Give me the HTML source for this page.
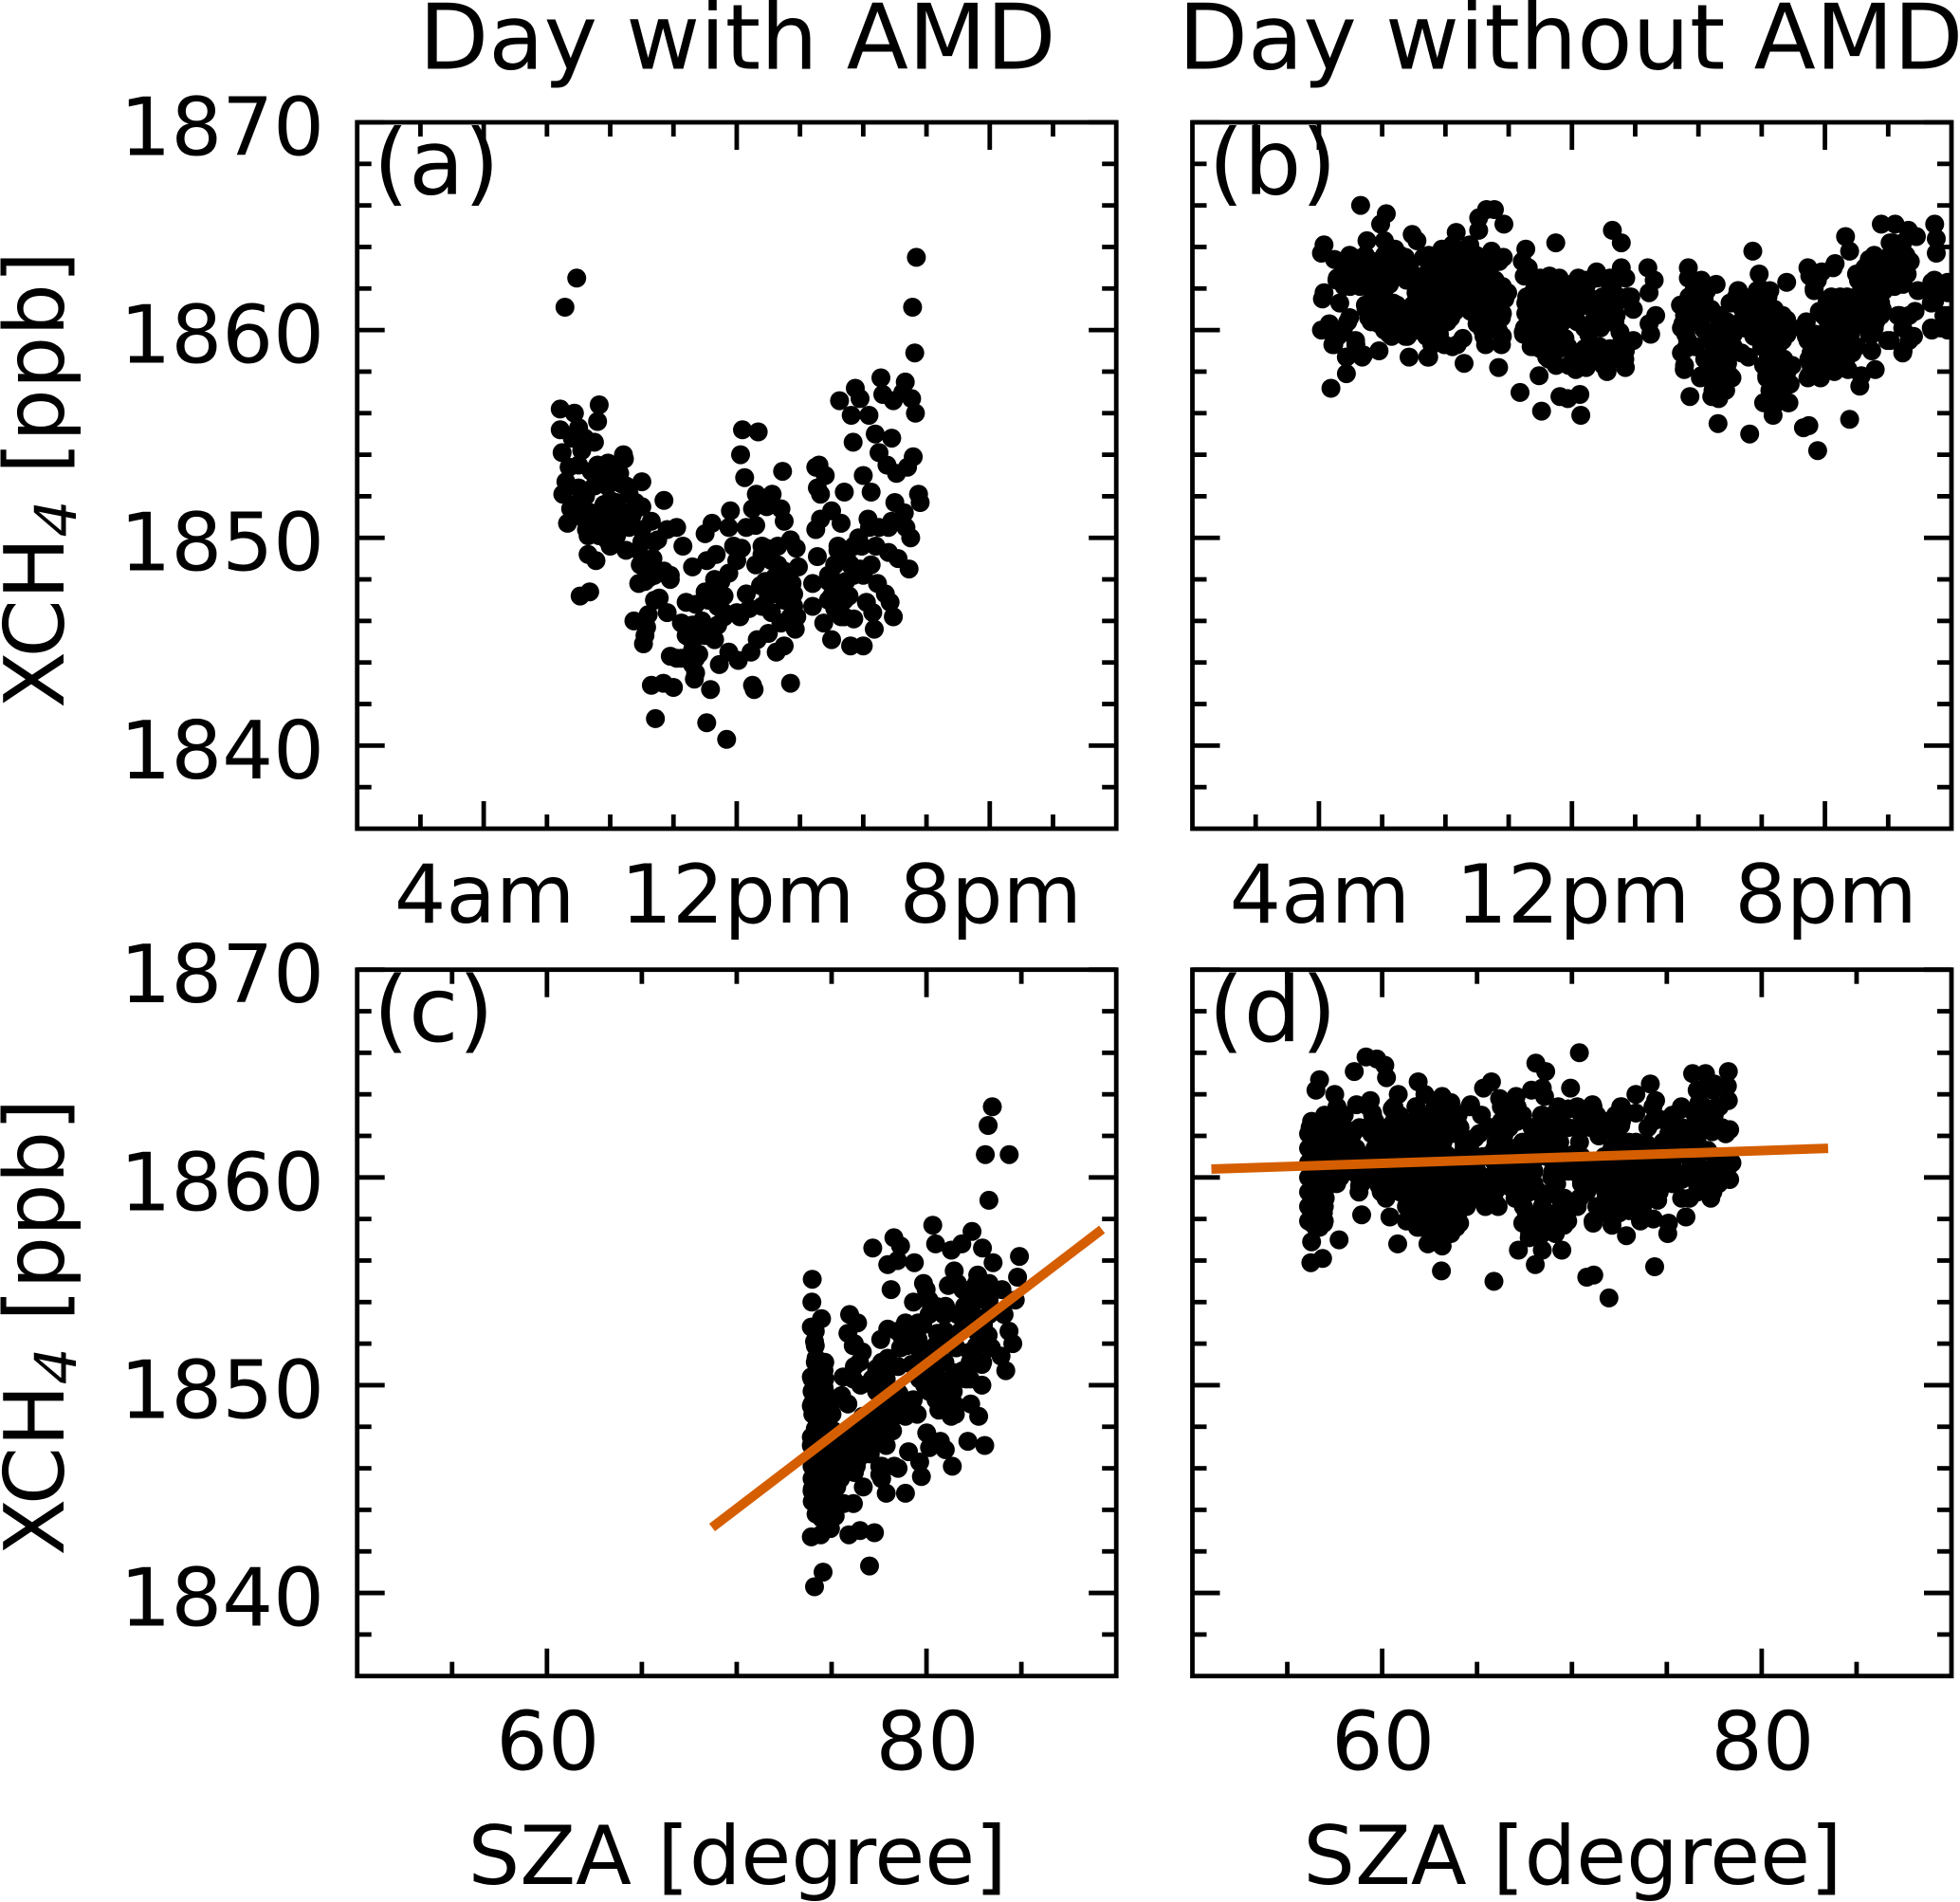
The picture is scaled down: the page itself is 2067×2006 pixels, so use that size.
<!DOCTYPE html>
<html lang="en">
<head>
<meta charset="utf-8">
<title>XCH4 versus time of day and SZA</title>
<style>
html,body{margin:0;padding:0;background:#fff;}
svg{display:block;font-family:"DejaVu Sans","Liberation Sans",sans-serif;}
</style>
</head>
<body>
<svg id="chart" xmlns="http://www.w3.org/2000/svg" width="2067" height="2006" viewBox="0 0 2067 2006"></svg>
<script>
const panelAHours = [6.42,6.87,7.65,7.60,6.42,7.00,6.80,7.50,6.48,7.10,6.70,7.93,8.42,8.45,7.40,7.75,8.30,9.00,6.60,7.00,6.50,7.22,7.80,8.00,8.35,8.60,6.75,9.00,6.65,7.25,7.55,8.20,9.30,8.70,9.00,7.90,7.65,8.50,8.00,7.30,7.55,7.05,7.35,
9.70,10.10,9.80,9.50,10.30,8.95,9.35,9.70,9.90,8.90,9.25,9.55,9.80,8.75,9.20,9.15,9.05,
12.18,12.68,12.12,12.25,13.45,12.62,13.12,11.80,12.50,12.95,13.40,13.50,11.22,11.00,11.75,12.30,12.60,13.70,13.88,13.95,10.60,11.05,11.35,11.90,12.15,12.00,12.95,12.80,13.10,11.75,11.30,13.50,13.75,13.20,11.00,11.40,11.60,12.30,12.75,13.00,13.60,13.80,10.40,10.70,11.60,12.00,12.40,13.10,13.40,13.85,13.90,10.25,10.90,10.50,10.80,11.30,12.65,13.00,13.50,13.25,11.75,12.45,12.05,11.45,9.90,10.25,10.60,10.80,10.70,10.66,9.30,9.68,10.00,11.17,12.50,12.55,13.70,9.43,11.05,11.68,
14.60,14.50,14.80,14.55,14.65,15.40,16.25,16.00,15.00,14.65,14.50,15.30,14.55,15.20,15.35,16.15,15.85,15.95,16.50,16.90,17.35,17.50,17.75,17.80,17.00,17.30,16.80,17.10,17.45,16.25,15.90,15.50,15.10,14.40,14.90,15.45,15.55,15.00,14.40,15.10,15.70,15.30,14.75,15.00,15.60,16.00,16.35,16.30,16.10,16.45,16.70,16.85,16.95,
16.56,17.33,15.75,15.25,15.90,15.62,16.18,16.62,16.95,17.25,17.53,17.65,15.68,16.38,16.90,16.50,16.75,17.05,17.40,17.58,
6.94,6.57,17.68,17.56,17.63];
const panelAXch4 = [1856.2,1856.0,1856.4,1855.6,1855.2,1855.3,1854.9,1854.6,1854.1,1854.2,1853.4,1853.6,1854.0,1853.8,1853.2,1853.0,1853.1,1852.7,1852.7,1852.4,1852.1,1852.0,1851.6,1851.8,1852.6,1852.1,1851.4,1851.5,1850.7,1850.4,1850.6,1850.8,1850.8,1851.1,1850.4,1849.9,1850.1,1849.4,1849.6,1849.2,1848.9,1847.2,1847.4,
1851.8,1850.5,1850.4,1849.9,1849.6,1848.7,1849.0,1848.4,1848.0,1847.8,1848.1,1847.1,1846.4,1846.0,1846.3,1845.7,1844.9,
1855.2,1855.1,1854.0,1852.9,1853.2,1852.1,1852.1,1851.3,1851.4,1851.5,1851.4,1850.8,1850.7,1850.2,1850.5,1850.5,1850.6,1849.9,1849.5,1848.6,1848.6,1848.9,1849.2,1849.6,1849.5,1848.9,1849.5,1849.2,1848.9,1848.3,1848.0,1848.4,1847.8,1848.1,1847.4,1847.5,1847.2,1847.3,1847.7,1847.2,1847.2,1846.7,1846.9,1846.8,1846.4,1846.4,1846.6,1846.4,1845.9,1845.6,1846.2,1845.9,1846.0,1845.2,1845.3,1845.1,1845.1,1845.4,1844.8,1844.5,1844.5,1844.5,1844.1,1843.9,1844.3,1844.2,1843.9,1844.4,1843.5,1843.2,1842.9,1843.0,1842.8,1842.7,1842.9,1842.7,1843.0,1841.3,1841.1,1840.3,
1853.5,1853.4,1853.0,1852.4,1852.1,1852.2,1852.2,1853.0,1851.3,1850.9,1850.4,1850.7,1849.1,1849.4,1849.1,1850.9,1850.0,1849.6,1850.5,1850.8,1850.5,1850.0,1852.1,1851.7,1851.7,1851.2,1849.3,1849.0,1848.5,1848.7,1848.5,1848.9,1848.7,1847.8,1847.9,1847.9,1847.2,1847.2,1846.7,1846.6,1846.1,1846.2,1845.9,1845.1,1844.8,1844.8,1845.6,1846.4,1846.9,1847.8,1847.3,1846.9,1846.2,
1857.7,1857.5,1857.2,1856.6,1856.7,1855.9,1855.9,1856.9,1856.6,1857.0,1856.7,1856.0,1854.6,1855.0,1854.8,1854.1,1853.5,1853.1,1853.4,1853.9,
1862.5,1861.1,1863.5,1861.1,1858.9];
const panelARowXch4 = [1854.8,1852.5,1851.7,1851.0,1850.1,1849.4,1848.7,1847.9,1847.3,1846.7,1845.8,1844.6,
1853.5,1851.2,1850.5,1849.8,1848.2,1847.0,1846.2,1845.3,1844.2,1849.6,1850.5];
const panelARowHours = [[6.8,7.2],[7.5,7.9,8.5],[7.0,8.2,8.8],[7.1,7.9],[7.3,8.2],[8.9],[12.6,13.3,15.1,15.6],[9.1,11.5,12.9,13.5,15.1],[11.4,13.3,13.8,15.3],[11.4,12.8],[11.4,10.6],[10.6],
[7.0,7.6,8.1],[7.4,8.4],[7.6,8.0,8.6],[9.0,9.4],[9.4,9.9,14.9,15.7,16.0],[9.4,11.1,13.5,14.9,15.4],[11.6,12.1,13.7,15.4],[9.1,10.4,11.0],[10.1,10.4,10.7],[12.8,13.3,15.2,15.7,16.4],[16.2,16.8]];

const panelBHours = [5.32,6.13,5.95,4.16,4.08,4.49,5.52,5.07,6.95,7.10,8.34,8.77,6.07,6.40,6.73,7.31,7.89,8.22,9.05,9.05,9.30,9.55,9.85,9.46,9.83,
4.58,4.91,5.24,5.90,6.23,6.57,7.06,7.56,8.06,8.39,8.88,9.22,9.63,
4.16,4.11,4.66,5.69,4.99,5.49,6.35,6.90,7.39,7.97,8.55,9.05,8.88,9.30,9.88,9.80,
4.08,4.33,4.91,4.58,5.16,4.44,5.41,4.87,5.90,4.87,4.38,
5.65,6.23,6.73,7.23,8.06,6.23,6.73,7.06,7.81,8.55,8.22,7.81,6.85,7.44,8.59,9.68,9.22,9.80,
10.54,10.43,10.62,10.49,11.29,11.49,13.28,13.56,13.56,14.40,14.60,14.44,10.96,11.54,12.03,12.45,12.78,13.28,13.86,12.53,10.54,10.54,11.37,11.87,12.86,13.94,14.65,14.44,14.49,10.46,10.71,11.12,11.78,11.20,12.03,11.37,11.70,12.53,13.52,13.94,13.36,13.69,12.86,13.69,13.11,12.36,12.12,12.45,10.96,10.36,11.62,11.87,12.25,11.04,12.28,
15.68,15.68,16.09,16.56,17.25,17.92,17.95,17.72,18.79,15.43,16.18,17.00,17.58,18.00,15.51,16.09,16.67,17.34,18.16,18.79,15.60,16.34,16.18,16.84,17.75,18.66,16.34,16.92,17.58,18.33,15.55,16.09,17.00,18.25,18.91,18.16,18.74,16.51,16.84,18.33,15.73,16.42,16.64,18.08,18.83,18.36,16.62,17.62,19.32,19.49,19.77,20.78,
19.52,19.90,19.66,20.32,20.65,20.78,21.40,21.23,19.41,19.82,20.48,21.15,21.73,19.41,20.24,21.15,21.81,19.82,20.57,21.48,19.49,20.32,20.82,21.48,19.49,19.82,20.73,21.15,21.59,21.10,
21.78,22.22,22.64,22.89,23.47,23.52,23.52,22.14,22.56,22.06,22.47,22.94,23.38,23.88,23.47,23.88,22.31,22.85,21.98,22.47,22.80,23.38,23.88,23.88];
const panelBXch4 = [1866.0,1865.6,1865.1,1864.1,1863.7,1863.4,1864.3,1863.5,1864.6,1864.3,1864.7,1864.1,1864.3,1863.9,1863.5,1863.5,1863.9,1864.1,1864.8,1865.4,1865.8,1865.8,1865.1,1863.8,1863.5,
1862.5,1862.2,1862.6,1862.7,1862.2,1862.9,1862.2,1862.4,1862.1,1862.7,1862.9,1862.2,1862.2,
1861.8,1861.5,1861.3,1861.8,1862.1,1861.0,1861.3,1861.0,1861.5,1861.3,1861.5,1861.5,1860.9,1860.7,1861.5,1860.8,
1860.0,1860.3,1860.4,1859.7,1859.5,1859.3,1858.8,1858.7,1859.0,1857.9,1857.2,
1860.4,1860.6,1860.4,1860.7,1860.4,1859.8,1859.7,1860.0,1859.8,1859.6,1859.2,1859.4,1858.7,1858.7,1858.4,1858.2,1859.7,1859.7,
1863.9,1863.3,1863.0,1862.6,1862.6,1864.2,1864.8,1864.2,1863.0,1863.0,1862.4,1861.8,1862.1,1861.9,1862.1,1862.4,1862.8,1862.1,1861.6,1861.6,1861.3,1860.8,1861.5,1861.2,1861.3,1861.0,1860.7,1860.3,1859.8,1859.9,1859.2,1859.8,1859.6,1858.7,1858.9,1860.7,1860.4,1859.8,1859.9,1859.5,1860.4,1859.0,1859.0,1858.2,1858.0,1858.7,1858.1,1858.2,1857.8,1857.0,1856.8,1856.7,1856.9,1856.1,1855.9,
1863.0,1862.5,1862.4,1862.2,1861.9,1862.7,1862.0,1863.8,1862.3,1861.2,1861.5,1861.3,1861.5,1861.0,1860.3,1860.7,1860.3,1860.4,1860.4,1860.5,1859.1,1859.7,1860.0,1859.2,1859.7,1859.7,1858.6,1858.4,1858.7,1859.0,1858.1,1857.8,1857.8,1858.3,1858.3,1857.8,1857.7,1857.2,1857.3,1857.2,1856.8,1856.8,1856.7,1856.5,1856.5,1855.9,1855.5,1855.0,1855.3,1855.4,1854.2,1855.7,
1862.6,1862.8,1862.0,1863.2,1864.5,1863.8,1863.4,1862.7,1860.4,1860.9,1861.6,1861.9,1862.4,1859.7,1860.0,1860.7,1861.0,1859.5,1859.4,1859.8,1858.6,1858.9,1859.0,1859.0,1857.8,1857.8,1858.1,1857.8,1858.1,1857.3,
1865.1,1865.1,1864.8,1864.5,1865.1,1864.4,1863.7,1864.2,1863.5,1862.9,1862.2,1861.9,1862.3,1862.3,1861.4,1861.8,1860.7,1860.9,1859.5,1859.0,1859.7,1860.0,1860.0,1860.7];
const panelBRowXch4 = [1863.6,1863.0,1862.4,1861.8,1861.2,1860.6,1860.0,1859.3,1858.7,
1862.2,1861.6,1861.0,1860.4,1859.8,1859.2,1858.6,
1861.9,1861.3,1860.7,1860.1,1859.5,1858.9,1858.3,1857.7,1857.1,1856.5,1864.2,1863.6,1863.0,1862.4,
1863.3,1862.7,1862.1,1861.5,1860.9,1860.3,1859.7,
1862.5,1861.9,1861.3,1860.7,1860.1,1859.1,1858.3,
1861.6,1861.0,1860.4,1859.8,1859.2,1858.6,1858.0,1857.4,1863.3,1862.7,1862.1];
const panelBRowHours = [[4.97,5.47,6.07,6.57,7.47,7.97,8.47,8.97,9.47],[4.77,5.27,5.87,6.37,6.87,7.67,8.17,8.67,9.17],[4.57,5.07,5.77,6.27,6.77,7.07,7.67,8.17,8.97,9.57],[5.77,7.07,7.47,8.07,8.57,9.07,9.57,9.97],[5.47,5.97,6.47,6.97,7.47,8.07,8.57,9.07,9.67],[4.97,5.57,6.27,6.77,7.27,7.77,8.17,9.07,9.77],[4.27,4.77,6.07,6.57,7.07,7.67,9.17,9.67],[4.47,5.17,7.57,7.97,8.37,9.27,9.77],[4.87,5.37,7.47],
[10.87,11.37,11.97,12.47,13.27],[10.57,11.07,11.57,12.07,12.97,13.47,13.77],[10.67,11.17,11.67,12.17,12.67,13.17],[10.67,10.97,12.17,12.67,13.17],[10.47,10.87,11.57],[10.77,11.27,11.87,12.87,13.47],[11.27,12.07,12.67,13.27,13.67],
[15.86,16.26,17.26,17.86,18.26,19.66,21.26,21.86,23.46,23.86],[15.66,16.16,17.16,17.66,18.16,20.06,20.56,21.16,21.76,23.36],[15.56,16.16,16.66,17.66,18.16,18.66,20.66,19.96,21.26,21.76,22.36,22.66,23.76],[15.46,16.66,17.46,18.06,18.56,19.26,20.36,20.86,21.56,22.46,23.36,23.66],[15.66,16.36,16.86,18.16,18.66,19.46,20.06,20.66,22.06,22.66],[15.46,16.46,16.86,17.36,18.26,19.56,20.16,20.86,22.46],[15.56,16.36,16.86,18.06,18.56,18.96,19.56,20.06,20.66],[16.06,16.66,17.06,18.16,18.66,19.46,19.86],[16.46,16.86,18.26,18.66],[18.06,18.46,18.86],[22.06,22.46],[21.56,22.06,22.56],[19.46,20.26,21.26,21.86,22.46],[19.76,21.06,21.66,22.16,23.46],
[4.7,5.2,5.7,6.2,6.7,7.7,8.2,8.7,9.2,9.7],[5.0,5.5,6.1,6.6,7.4,7.9,8.4,8.9,9.4],[4.8,5.3,6.0,7.3,7.9,8.4,8.7,9.3,9.8],[6.1,7.3,7.8,8.3,8.8,9.3,9.8],[5.7,6.2,6.7,7.2,7.7,8.3,8.8,9.3,9.6],[5.9,6.4,6.9,7.4,7.9,9.0,9.5],[4.6,6.3,6.8,7.4],
[11.0,11.6,12.2,12.8,13.2,13.7],[10.8,11.3,11.8,12.3,13.2],[10.9,11.4,11.9,12.4,13.0,13.4],[10.8,11.4,11.9,12.9,13.4],[10.5,10.9,11.2,12.4,12.9],[11.0,11.6,12.4,13.2],[11.5,11.9,12.4,13.0],
[15.7,16.1,17.2,17.7,18.2,20.2,20.7,21.3,21.7],[15.9,16.4,17.4,17.9,18.4,20.4,21.0,21.5],[15.8,16.9,17.4,17.9,18.4,20.1,20.6,21.1,21.6],[15.6,16.6,17.1,18.3,18.8,19.7,20.3,20.8,21.4],[15.9,16.5,17.1,18.0,18.5,19.8,20.4,21.0],[16.2,16.7,18.2,18.7,19.9,20.5],[16.4,16.9,18.3,18.8,19.7,20.3],[18.3,18.6,18.9],[21.9,22.3,22.7],[21.0,21.6,22.2,22.6],[21.4,21.9,22.2]];

const panelCSza = [83.47,83.25,83.10,84.36,83.29,80.33,82.40,78.28,77.17,78.63,80.48,81.86,81.31,82.95,84.90,77.96,78.47,79.36,83.51,81.46,82.70,84.80,73.98,79.84,78.13,81.15,81.91,82.58,83.98,79.98,73.96,79.31,80.23,83.09,84.68,75.95,74.47,76.37,80.90,82.25,84.09,78.89,73.93,75.86,77.96,79.56,80.57,83.25,84.35,77.59,74.10,76.20,78.72,79.56,78.63,84.55,76.62,80.23,81.57,83.42,74.18,77.96,83.93,
76.20,77.37,79.22,82.92,84.18,73.93,74.60,75.61,77.88,80.23,81.91,76.53,80.90,82.08,82.92,74.18,75.53,77.37,78.55,80.23,81.41,75.86,73.93,74.85,79.22,80.73,82.33,
74.01,75.02,79.51,80.65,81.52,82.75,78.89,77.71,76.53,74.18,78.21,80.01,77.29,73.93,75.19,76.53,80.73,82.18,83.07,77.88,80.16,80.99,73.93,79.05,77.04,75.53,74.01,75.19,76.37,77.54,79.64,78.50,81.36,76.20,75.02,79.73,74.18,77.54,73.98,75.27,76.67,77.88,78.89,73.98,74.85,76.15,74.18,75.19,74.94,73.93,74.43,75.91,76.50,77.26,74.55,77.00,74.10,
74.5,74.6,74.9,74.4,75.1,74.6,74.4,74.9,75.6,74.6,75.1,74.7,74.3,74.7,75.3,76.4,76.9,77.7,79.0,80.9,81.5,82.3,81.1,79.7,78.4,79.9,81.0,83.0,82.6,79.3];
const panelCXch4 = [1863.4,1862.5,1861.1,1861.1,1858.9,1857.7,1857.4,1857.1,1856.6,1856.7,1856.8,1856.8,1856.5,1856.6,1856.2,1855.8,1856.0,1855.9,1855.9,1855.5,1855.3,1855.2,1855.1,1854.9,1854.6,1854.8,1854.6,1854.6,1854.6,1854.6,1854.0,1854.0,1853.9,1854.1,1854.1,1853.4,1853.2,1853.0,1853.4,1853.4,1853.4,1853.0,1852.8,1852.5,1852.7,1853.0,1852.5,1852.4,1852.6,1852.2,1852.1,1852.0,1852.3,1852.2,1851.8,1852.0,1851.6,1851.6,1851.8,1851.8,1851.3,1851.3,1851.4,
1850.9,1850.8,1851.0,1851.0,1850.7,1850.4,1850.7,1850.4,1850.3,1850.7,1850.7,1850.0,1850.2,1850.3,1850.0,1849.7,1849.5,1849.7,1849.6,1849.7,1849.7,1849.1,1849.0,1849.2,1849.2,1849.3,1849.1,
1848.6,1848.6,1848.6,1848.8,1848.6,1848.5,1848.5,1848.5,1848.3,1847.9,1847.8,1847.7,1847.9,1847.5,1847.2,1847.4,1847.3,1847.3,1847.1,1847.1,1847.0,1846.9,1847.1,1846.8,1846.7,1846.7,1846.2,1846.2,1846.4,1846.1,1846.3,1846.0,1846.1,1845.8,1845.7,1845.6,1845.5,1845.7,1845.0,1845.1,1845.1,1844.8,1844.8,1844.4,1844.5,1844.3,1843.8,1843.7,1843.1,1842.7,1842.8,1842.8,1843.0,1842.9,1841.0,1841.3,1840.3,
1851.0,1849.9,1848.9,1848.3,1847.8,1847.4,1846.7,1846.5,1846.0,1845.8,1845.0,1844.9,1844.2,1843.6,1844.3,1847.5,1848.4,1849.4,1848.6,1851.1,1850.6,1851.6,1852.0,1851.5,1849.1,1850.0,1849.0,1852.9,1853.0,1852.6];
const panelCRowXch4 = [1854.9,1854.1,1853.4,1852.6,1851.9,1851.1,1850.3,1849.7,1849.1,1848.5,1847.9,1847.3,1846.7,1846.1,1845.5,1844.9,1844.3,1843.6,
1853.8,1852.9,1850.9,1849.3];
const panelCRowSza = [[82.63,83.3,81.63],[82.63,83.3,80.13],[80.13,80.97,81.63,82.46,83.3],[74.14,79.3,78.47,80.97,81.8,82.63],[74.14,76.14,78.97,80.47,82.63,83.3],[74.14,74.64,76.47,77.64,80.97,82.3,82.96],[73.97,74.64,76.14,77.14,79.63,80.63,81.63,82.3],[73.97,74.64,77.64,78.47,80.13,80.97],[73.97,74.8,77.64,78.47,80.8,81.46],[74.14,74.8,76.64,77.47,78.3,81.3],[74.14,74.8,75.97,76.8,77.64],[74.14,74.8,75.8,76.64,77.47],[74.14,74.8,75.47,76.3,76.97],[73.97,74.8,75.64,76.3,77.64,78.3],[73.97,74.8,75.47,77.64],[73.97,74.64],[74.14,74.8,75.64],[74.47],
[80.5,81.0,82.0],[79.8],[78.0,78.5],[79.3,80.5]];

const panelDSza = [59.15,59.72,60.14,60.23,58.53,70.39,68.10,68.62,69.93,65.76,65.34,61.90,56.70,56.51,57.50,60.85,74.13,73.37,74.41,76.36,77.04,78.24,78.19,76.77,78.24,77.50,
68.44,67.87,67.06,66.19,63.16,62.25,63.62,64.66,59.38,58.65,60.53,61.79,72.57,71.08,69.82,70.39,68.56,75.78,77.39,76.70,
56.97,56.28,57.43,59.49,58.81,59.72,60.87,62.25,63.39,65.23,66.61,68.44,69.36,70.62,71.88,73.37,74.63,75.32,76.36,78.31,77.39,72.57,
56.28,56.97,58.35,60.18,62.02,63.16,64.08,64.89,65.69,68.21,71.42,73.37,75.32,73.95,69.36,66.38,
56.28,57.43,58.35,64.31,67.52,70.05,72.11,74.41,78.31,77.16,76.01,61.56,63.39,65.69,68.67,70.96,
56.28,58.81,60.64,62.48,64.77,66.61,69.36,72.57,73.95,75.55,77.16,78.31,56.51,58.81,59.84,61.33,63.39,65.46,66.61,70.28,74.63,71.65,76.70,75.78,77.73,
56.51,60.30,62.25,63.85,66.03,65.46,67.29,68.90,70.85,72.57,73.72,74.52,75.78,77.32,70.28,72.23,67.75,
56.28,56.92,58.92,60.41,61.44,62.94,64.31,68.21,69.59,71.31,73.03,74.29,76.01,75.09,73.72,
67.41,64.08,61.86,69.59,71.12,72.11,69.13,63.62,62.82,67.75,72.87,75.05,
56.28,57.73,60.82,62.41,63.16,68.44,69.47,67.18,56.86,56.24,68.07,63.12,74.36,71.15,70.78,65.89,71.95,
56.3,56.5,56.3,56.7,57.0,57.2,56.5,56.3,56.7,56.3,56.9,57.0];
const panelDXch4 = [1865.8,1865.7,1865.4,1864.8,1865.1,1866.0,1865.5,1865.1,1864.3,1864.6,1864.3,1864.6,1864.7,1864.2,1864.0,1864.0,1864.5,1864.0,1863.7,1865.0,1865.0,1865.1,1864.4,1864.2,1863.7,1864.5,
1864.3,1864.2,1863.9,1863.8,1863.9,1864.0,1863.6,1863.5,1863.7,1863.5,1863.3,1863.4,1863.4,1863.5,1863.3,1863.3,1863.9,1863.3,1863.3,1863.6,
1863.0,1862.7,1862.2,1863.1,1862.4,1862.2,1862.7,1862.7,1863.0,1863.0,1863.3,1863.0,1862.7,1862.7,1862.7,1863.1,1862.8,1862.7,1862.3,1862.3,1862.2,1862.5,
1861.9,1861.6,1861.4,1861.7,1862.0,1861.7,1862.2,1861.9,1862.4,1862.2,1862.0,1861.7,1861.9,1861.6,1861.7,1861.7,
1861.0,1861.0,1860.7,1861.4,1861.2,1861.1,1861.3,1860.8,1860.6,1861.3,1861.1,1861.1,1861.1,1861.1,1861.0,1860.7,
1860.2,1860.4,1860.4,1860.4,1860.4,1860.5,1860.5,1860.4,1860.5,1860.2,1860.4,1859.9,1859.6,1859.6,1859.6,1859.6,1859.8,1859.8,1859.6,1860.2,1859.5,1859.9,1859.5,1859.9,1859.7,
1858.9,1859.2,1859.2,1859.0,1858.7,1858.9,1858.9,1859.2,1859.5,1859.3,1859.2,1858.9,1859.0,1859.0,1858.8,1858.7,1859.3,
1858.1,1857.8,1858.2,1858.1,1858.4,1858.4,1858.6,1858.1,1858.3,1858.6,1858.4,1858.0,1858.1,1857.8,1858.6,
1857.8,1857.8,1857.6,1857.7,1857.8,1857.7,1857.3,1857.3,1857.3,1857.1,1857.2,1857.3,
1856.9,1857.0,1856.8,1856.8,1856.7,1856.5,1856.5,1856.5,1856.1,1855.9,1855.8,1855.5,1855.7,1855.3,1855.2,1855.0,1854.2,
1862.3,1861.4,1859.2,1858.5,1859.9,1860.6,1860.6,1858.6,1857.6,1857.8,1862.0,1859.0];
const panelDRowXch4 = [1863.4,1862.7,1862.1,1861.4,1860.7,1860.0,1859.3,1858.6,1857.9,1857.3,
1863.4,1862.7,1862.1,1861.4,1860.7,1860.0,1859.3,1858.6,1857.9,1864.2,
1863.0,1862.4,1861.7,1861.0,1860.3,1859.7,1859.0,1858.3,1857.6];
const panelDRowSza = [[57.62,59.28,60.62,61.78,62.78,63.61,64.61,66.28,67.11],[56.29,57.12,57.78,59.62,60.62,61.61,62.45,63.28,63.95,66.28,67.11],[56.12,56.95,57.78,58.45,59.45,60.45,61.28,62.11,62.95,63.61,65.11,66.44],[56.12,56.95,57.62,58.62,59.62,60.62,61.45,62.28,63.11,64.61,65.94,66.94],[56.12,56.95,57.78,58.62,59.62,60.62,61.45,62.28,63.11,63.95,64.94,65.94,66.94,67.77],[56.12,56.95,57.78,58.78,59.78,60.78,61.95,63.45,64.61,65.61,66.61,67.61],[56.12,56.95,58.78,59.95,60.95,62.11,63.11,64.11,65.11,65.94,67.27,68.27],[56.12,56.95,61.28,62.45,63.45,64.44,65.44,66.11,67.44,68.44],[56.12,56.95,61.28,62.11,63.95,67.61],[62.61,63.45,67.77,68.44],
[69.28,70.28,71.11,72.61,74.27,75.77,76.94,77.77],[68.94,70.61,71.77,72.61,74.27,75.27,76.6,77.43],[68.78,69.28,71.44,72.27,75.1,75.94,78.1],[69.11,72.11,73.27,74.1,75.1],[69.11,70.11,71.11,72.27,73.27,74.44,75.27,76.27,77.6,78.43],[68.94,70.77,71.61,72.94,73.94,74.94,75.77,77.27,78.1],[68.94,70.77,71.77,72.77,73.77,74.6,76.6,77.43],[69.44,70.28,71.44,72.27,73.27],[69.11,69.78,71.11,72.11,73.61],[76.6,77.43],
[58.0,59.5,60.9,61.9,62.6,63.0,63.4,64.0,66.6,67.4,68.4,69.0,70.5,71.3,72.3,75.3,76.5,77.0,77.5],[56.2,56.7,57.2,58.0,59.2,60.3,61.0,61.6,62.4,63.3,64.1,65.8,66.7,67.9,68.8,69.8,70.3,71.0,72.2,74.0,75.8,76.8,77.9],[56.3,56.6,57.2,58.2,59.9,60.9,61.8,62.5,63.2,64.3,66.0,67.4,68.3,69.0,70.4,72.4,73.0,74.8,75.8,76.6],[56.4,56.8,57.6,58.2,59.1,59.9,60.9,61.9,62.7,63.5,64.3,65.3,66.4,67.3,68.2,69.6,70.5,71.7,72.8,73.6,75.1,76.6,77.6],[56.4,56.8,57.5,58.4,59.4,60.3,61.2,62.1,63.0,63.9,65.0,66.0,67.1,68.0,69.0,69.8,70.8,71.9,72.9,73.7,74.5,76.4,77.7,78.0],[56.4,56.8,57.6,58.9,60.5,61.5,62.4,63.1,64.3,65.2,66.1,67.2,68.0,69.2,70.5,71.3,72.4,73.4,74.3,75.3,76.6],[56.4,56.8,60.2,61.3,62.0,62.8,63.8,64.8,65.0,67.0,68.5,69.6,70.4,71.8,72.7,73.4,74.0,76.2],[56.5,56.9,61.7,62.7,63.5,64.0,67.6,68.6,69.2,71.9,72.5,73.5],[56.5,62.0,62.4,63.2,63.9,67.9,68.8]];

const fitCSza = [68.7, 89.25];
const fitCXch4 = [1843.15, 1857.5];
const fitDSza = [51.0, 83.5];
const fitDXch4 = [1860.4, 1861.4];

const yMajorTicks = [1840, 1850, 1860, 1870];
const yMinorTicks = [1838, 1842, 1844, 1846, 1848, 1852, 1854, 1856, 1858, 1862, 1864, 1866, 1868];
const hourMajorTicks = [4, 12, 20];
const hourMinorTicks = [2, 6, 8, 10, 14, 16, 18, 22];
const hourTickLabels = ['4am', '12pm', '8pm'];
const szaMajorTicks = [60, 80];
const szaMinorTicks = [55, 65, 70, 75, 85];
const szaTickLabels = ['60', '80'];

const NS = 'http://www.w3.org/2000/svg';
const svg = document.getElementById('chart');
const defs = document.createElementNS(NS, 'defs');
svg.appendChild(defs);

function make(tag, attrs, parent) {
  const el = document.createElementNS(NS, tag);
  for (const k in attrs) el.setAttribute(k, attrs[k]);
  parent.appendChild(el);
  return el;
}

function drawPanel(cfg) {
  const g = make('g', {}, svg);
  
  
  const W = 800.5, H = 745;
  const sx = v => cfg.left + (v - cfg.xMin) / (cfg.xMax - cfg.xMin) * W;
  const sy = v => cfg.top + (1870 - v) / 34 * H;

  const clip = make('clipPath', {id: cfg.id + '-clip'}, defs);
  make('rect', {x: cfg.left, y: cfg.top, width: W, height: H}, clip);
  const labelClip = make('clipPath', {id: cfg.id + '-label-clip'}, defs);
  make('rect', {x: cfg.left, y: cfg.top, width: W, height: 88}, labelClip);

  const tick = (x1, y1, x2, y2, name) => {
    const t = make('line', {x1, y1, x2, y2, stroke: '#000', 'stroke-width': 4.8}, g);
    
    
  };
  const MAJ = 29, MIN = 15;
  const bottom = cfg.top + H, right = cfg.left + W;
  cfg.xMajor.forEach(v => { tick(sx(v), bottom, sx(v), bottom - MAJ, 'x-major-tick'); tick(sx(v), cfg.top, sx(v), cfg.top + MAJ, 'x-major-tick-top'); });
  cfg.xMinor.forEach(v => { tick(sx(v), bottom, sx(v), bottom - MIN, 'x-minor-tick'); tick(sx(v), cfg.top, sx(v), cfg.top + MIN, 'x-minor-tick-top'); });
  yMajorTicks.forEach(v => { tick(cfg.left, sy(v), cfg.left + MAJ, sy(v), 'y-major-tick'); tick(right, sy(v), right - MAJ, sy(v), 'y-major-tick-right'); });
  yMinorTicks.forEach(v => { tick(cfg.left, sy(v), cfg.left + MIN, sy(v), 'y-minor-tick'); tick(right, sy(v), right - MIN, sy(v), 'y-minor-tick-right'); });

  const pts = make('g', {'clip-path': 'url(#' + cfg.id + '-clip)'}, g);
  
  
  const dot = (x, y) => {
    const c = make('circle', {cx: sx(x).toFixed(1), cy: sy(y).toFixed(1), r: 10, fill: '#000'}, pts);
    
    
  };
  cfg.xs.forEach((x, i) => dot(x, cfg.ys[i]));
  cfg.rowYs.forEach((y, i) => cfg.rowXs[i].forEach(x => dot(x, y)));

  if (cfg.fitX) {
    const fit = make('line', {x1: sx(cfg.fitX[0]), y1: sy(cfg.fitY[0]), x2: sx(cfg.fitX[1]), y2: sy(cfg.fitY[1]), stroke: '#d55e00', 'stroke-width': 10}, g);
    
    
  }

  const frame = make('rect', {x: cfg.left, y: cfg.top, width: W, height: H, fill: 'none', stroke: '#000', 'stroke-width': 4.8}, g);
  
  

  const letter = make('text', {x: cfg.left + 17, y: cfg.top + 75.5, 'font-size': 95.5, 'clip-path': 'url(#' + cfg.id + '-label-clip)'}, g);
  letter.textContent = cfg.letter;
  
  

  cfg.xMajor.forEach((v, i) => {
    const t = make('text', {x: sx(v) + 1, y: bottom + cfg.xLabelDy, 'font-size': 85.7, 'text-anchor': 'middle'}, g);
    t.textContent = cfg.xLabels[i];
    
    
  });

  if (cfg.yLabels) {
    yMajorTicks.forEach(v => {
      const t = make('text', {x: 342, y: sy(v) + 34.5, 'font-size': 84.7, 'text-anchor': 'end'}, g);
      t.textContent = String(v);
      
      
    });
    const cy = cfg.top + 377;
    const yt = make('text', {x: 67, y: cy, 'font-size': 87.5, 'text-anchor': 'middle', transform: 'rotate(-90 67 ' + cy + ')'}, g);
    
    
    make('tspan', {}, yt).textContent = 'XCH';
    make('tspan', {dy: 13, 'font-size': 61, 'font-style': 'italic'}, yt).textContent = '4';
    make('tspan', {dy: -13}, yt).textContent = ' [ppb]';
  }

  if (cfg.title) {
    const t = make('text', {x: cfg.left + cfg.titleDx, y: 72.7, 'font-size': 95.3, 'text-anchor': 'middle'}, g);
    t.textContent = cfg.title;
    
    
  }
  if (cfg.xTitle) {
    const t = make('text', {x: cfg.left + 401, y: 1987, 'font-size': 86, 'text-anchor': 'middle'}, g);
    t.textContent = cfg.xTitle;
    
    
  }
}

drawPanel({id: 'panel-a', letter: '(a)', left: 376.7, top: 129, xMin: 0, xMax: 24, xs: panelAHours, ys: panelAXch4, rowYs: panelARowXch4, rowXs: panelARowHours, xMajor: hourMajorTicks, xMinor: hourMinorTicks, xLabels: hourTickLabels, xLabelDy: 99, yLabels: true, title: 'Day with AMD', titleDx: 401});
drawPanel({id: 'panel-b', letter: '(b)', left: 1257.5, top: 129, xMin: 0, xMax: 24, xs: panelBHours, ys: panelBXch4, rowYs: panelBRowXch4, rowXs: panelBRowHours, xMajor: hourMajorTicks, xMinor: hourMinorTicks, xLabels: hourTickLabels, xLabelDy: 99, yLabels: false, title: 'Day without AMD', titleDx: 399});
drawPanel({id: 'panel-c', letter: '(c)', left: 376.7, top: 1022.7, xMin: 50, xMax: 90, xs: panelCSza, ys: panelCXch4, rowYs: panelCRowXch4, rowXs: panelCRowSza, xMajor: szaMajorTicks, xMinor: szaMinorTicks, xLabels: szaTickLabels, xLabelDy: 99, yLabels: true, fitX: fitCSza, fitY: fitCXch4, xTitle: 'SZA [degree]'});
drawPanel({id: 'panel-d', letter: '(d)', left: 1257.5, top: 1022.7, xMin: 50, xMax: 90, xs: panelDSza, ys: panelDXch4, rowYs: panelDRowXch4, rowXs: panelDRowSza, xMajor: szaMajorTicks, xMinor: szaMinorTicks, xLabels: szaTickLabels, xLabelDy: 99, yLabels: false, fitX: fitDSza, fitY: fitDXch4, xTitle: 'SZA [degree]'});
</script>
</body>
</html>
